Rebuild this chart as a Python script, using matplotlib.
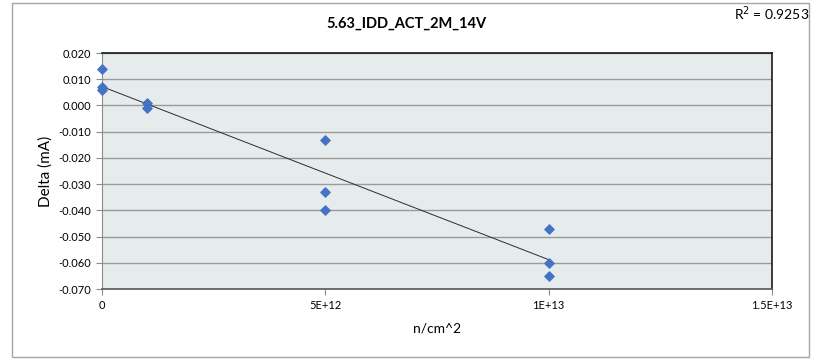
import numpy as np
import matplotlib
matplotlib.use("Agg")
import matplotlib.pyplot as plt
from matplotlib.ticker import FixedLocator, FixedFormatter, FormatStrFormatter

plt.rcParams["font.family"] = ["Lato", "DejaVu Sans"]

# fluence (n/cm^2) and delta current (mA)
fluence = [0, 0, 0, 1e12, 1e12, 5e12, 5e12, 5e12, 1e13, 1e13, 1e13]
delta = [0.014, 0.007, 0.006, 0.001, -0.001, -0.013, -0.033, -0.040,
         -0.047, -0.060, -0.065]
x_ticks = [0, 5e12, 1e13, 1.5e13]
x_tick_labels = ["0", "5E+12", "1E+13", "1.5E+13"]
y_ticks = [0.020, 0.010, 0.000, -0.010, -0.020, -0.030, -0.040, -0.050, -0.060, -0.070]
r2_label = "R$^2$ = 0.9253"
title = "5.63_IDD_ACT_2M_14V"

fig = plt.figure(figsize=(8.13, 3.6), dpi=100)
ax = fig.add_axes([102 / 813, 1 - 289 / 360, 670 / 813, 236 / 360])
ax.set_facecolor("#E6ECEC")

# chart frame
fig.patches.append(plt.Rectangle((12 / 813, 3 / 360), 797 / 813, 354 / 360,
                                 transform=fig.transFigure, fill=False,
                                 edgecolor="#A6A6A6", linewidth=1.0))

ax.set_xlim(0, 1.5e13)
ax.set_ylim(-0.070, 0.020)
ax.yaxis.set_major_locator(FixedLocator(y_ticks))
ax.yaxis.set_major_formatter(FormatStrFormatter("%.3f"))
ax.xaxis.set_major_locator(FixedLocator(x_ticks))
ax.xaxis.set_major_formatter(FixedFormatter(x_tick_labels))
ax.grid(axis="y", color="#9A9A9A", linewidth=1.0)
ax.set_axisbelow(True)

for side in ["top", "right"]:
    ax.spines[side].set_color("#1A1A1A")
    ax.spines[side].set_linewidth(1.2)
ax.spines["left"].set_color("#8C8C8C")
ax.spines["bottom"].set_color("#595959")
ax.spines["bottom"].set_linewidth(1.2)
ax.tick_params(axis="both", labelsize=8, length=4, color="#8C8C8C", pad=4)

# linear trendline over the data range
coef = np.polyfit(fluence, delta, 1)
xs = np.array([min(fluence), max(fluence)])
ax.plot(xs, np.polyval(coef, xs), color="#2B2B2B", linewidth=0.7, zorder=3)

ax.scatter(fluence, delta, marker="D", s=22, color="#4472C4", zorder=4,
           clip_on=False)

ax.set_xlabel("n/cm^2", fontsize=10, labelpad=8)
ax.set_ylabel("Delta (mA)", fontsize=11, labelpad=4)
fig.text(0.5, 1 - 24 / 360, title, ha="center", va="center",
         fontsize=10.5, fontweight="bold")
fig.text(1 - 4 / 813, 1 - 14 / 360, r2_label, ha="right", va="center",
         fontsize=10)

fig.savefig("out.png", dpi=100)
